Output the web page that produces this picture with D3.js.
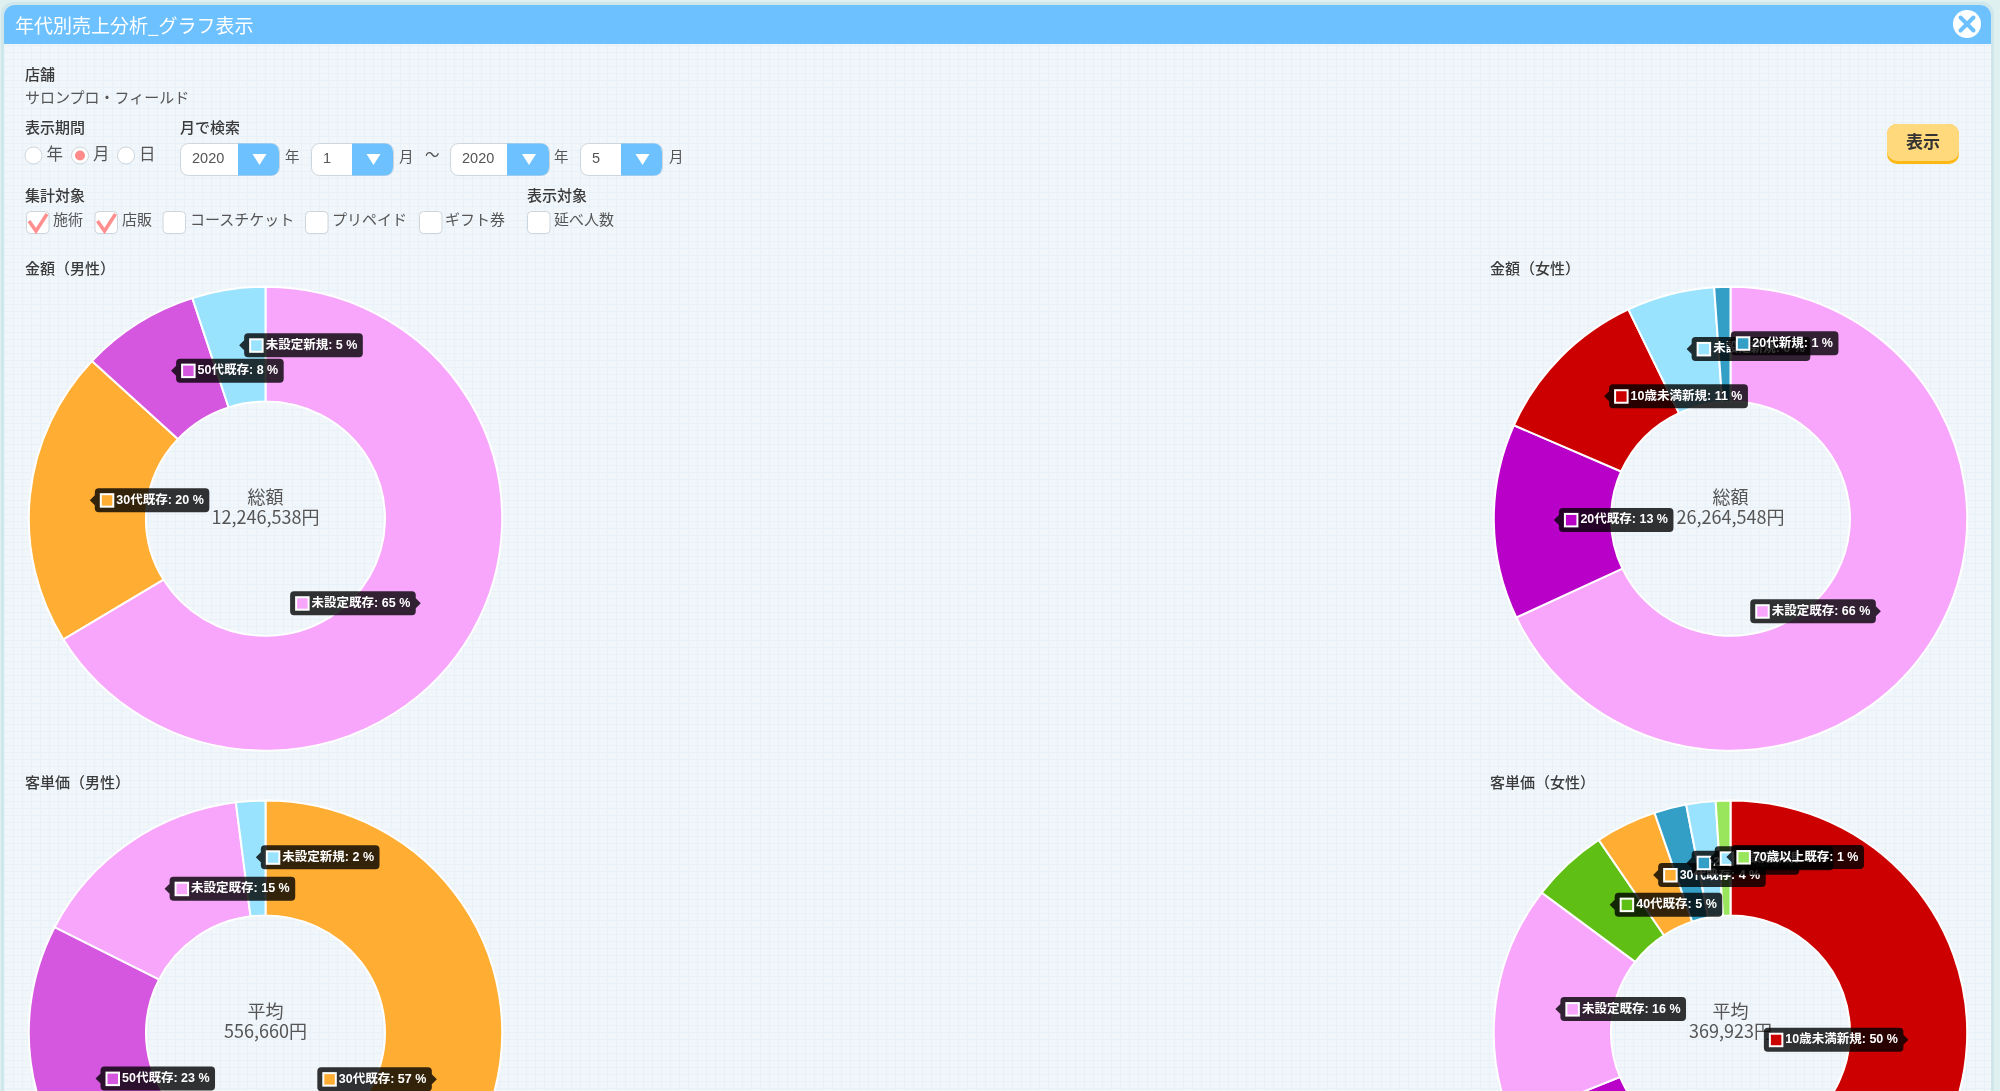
<!DOCTYPE html>
<html lang="ja">
<head>
<meta charset="utf-8">
<title>年代別売上分析_グラフ表示</title>
<script src="https://cdn.jsdelivr.net/npm/d3@7"></script>
<style>
  html, body { margin: 0; padding: 0; background: #dff0f1; overflow: hidden; }
  svg { display: block; filter: blur(0.4px); }
  text { font-family: "Liberation Sans", "Noto Sans CJK JP", sans-serif; }
</style>
</head>
<body>
<svg id="chart" width="2000" height="1091"></svg>
<script>
// chart data
const maleAmountNames = ["未設定既存", "30代既存", "50代既存", "未設定新規"];
const maleAmountValues = [66.3, 20.6, 8.1, 5];
const maleAmountPct = [65, 20, 8, 5];

const femaleAmountNames = ["未設定既存", "20代既存", "10歳未満新規", "未設定新規", "20代新規"];
const femaleAmountValues = [68, 13.6, 11.3, 6, 1.1];
const femaleAmountPct = [66, 13, 11, 6, 1];

const maleAvgNames = ["30代既存", "50代既存", "未設定既存", "未設定新規"];
const maleAvgValues = [58.8, 23.7, 15.5, 2];
const maleAvgPct = [57, 23, 15, 2];

const femaleAvgNames = ["10歳未満新規", "20代既存", "未設定既存", "40代既存", "30代既存", "20代新規", "未設定新規", "70歳以上既存"];
const femaleAvgValues = [51.5, 17.3, 16.5, 5.3, 4.2, 2.2, 2, 1];
const femaleAvgPct = [50, 17, 16, 5, 4, 2, 2, 1];

const colors = {
  "未設定既存": "#f8a5fc",
  "未設定新規": "#99e3ff",
  "10歳未満新規": "#cc0000",
  "20代既存": "#b800c8",
  "20代新規": "#339fc6",
  "30代既存": "#ffad33",
  "40代既存": "#60bf15",
  "50代既存": "#d557df",
  "70歳以上既存": "#99e65c"
};

const checkLabels = ["施術", "店販", "コースチケット", "プリペイド", "ギフト券", "延べ人数"];
const checked = [true, true, false, false, false, false];

const svg = d3.select("#chart");
const blue = "#6ec1ff";
const labelColor = "#3a3a3a";
const cjk = "\"Noto Sans CJK JP\", sans-serif";

function addText(g, x, y, str, size, opts) {
  opts = opts || {};
  return g.append("text")
    .attr("x", x)
    .attr("y", y)
    .attr("dominant-baseline", "central")
    .attr("text-anchor", opts.anchor || "start")
    .attr("font-size", size)
    .attr("font-weight", opts.weight || 400)
    .attr("fill", opts.fill || labelColor)
    .text(str);
}

function drawFrame() {
  // faint linen weave on the panel
  const pat = svg.append("defs").append("pattern").attr("id", "linen")
    .attr("width", 9).attr("height", 7).attr("patternUnits", "userSpaceOnUse");
  pat.append("rect").attr("width", 9).attr("height", 7).attr("fill", "#f1f6fb");
  pat.append("path").attr("d", "M0 3.5H9M4.5 0V7").attr("stroke", "#e9f1f8").attr("stroke-width", 1);

  svg.append("rect").attr("x", 1).attr("y", 2).attr("width", 1993).attr("height", 1100).attr("rx", 12).attr("fill", "#cfe6ea");
  svg.append("rect").attr("x", 4).attr("y", 5).attr("width", 1987).attr("height", 1100).attr("rx", 11).attr("fill", "url(#linen)");
  svg.append("path").attr("d", "M4 44V16a11 11 0 0 1 11-11H1980a11 11 0 0 1 11 11V44Z").attr("fill", blue);
  addText(svg, 15, 24.5, "年代別売上分析_グラフ表示", 19, {fill: "#fff"}).style("font-family", cjk);
  svg.append("circle").attr("cx", 1967).attr("cy", 24).attr("r", 14).attr("fill", "#fff");
  svg.append("path").attr("d", "M1960.5 17.5L1973.5 30.5M1973.5 17.5L1960.5 30.5")
    .attr("stroke", blue).attr("stroke-width", 4).attr("stroke-linecap", "round");
}

function drawSelect(x, w, arrowW, val) {
  svg.append("rect").attr("x", x + .5).attr("y", 143.5).attr("width", w).attr("height", 32).attr("rx", 8)
    .attr("fill", "#fff").attr("stroke", "#cdd6dc");
  svg.append("path")
    .attr("d", `M${x + w - arrowW} 143.5H${x + w - 8}a8 8 0 0 1 8 8V167.5a8 8 0 0 1 -8 8H${x + w - arrowW}Z`)
    .attr("fill", blue);
  const ax = x + w - arrowW / 2 + 1;
  svg.append("path").attr("d", `M${ax - 7} 154H${ax + 7}L${ax} 165Z`).attr("fill", "#fff");
  addText(svg, x + 12, 158, val, 14.5, {fill: "#555"});
}

function drawForm() {
  addText(svg, 25, 74, "店舗", 15, {weight: 500});
  addText(svg, 25, 97, "サロンプロ・フィールド", 15, {fill: "#555"});
  addText(svg, 25, 127, "表示期間", 15, {weight: 500});
  addText(svg, 180, 127, "月で検索", 15, {weight: 500});

  [[33.5, "年", false], [80, "月", true], [126, "日", false]].forEach(r => {
    svg.append("circle").attr("cx", r[0]).attr("cy", 155.5).attr("r", 8.5).attr("fill", "#fff").attr("stroke", "#cdd6dc");
    if (r[2]) svg.append("circle").attr("cx", r[0]).attr("cy", 155.5).attr("r", 5).attr("fill", "#ff8a8a");
    addText(svg, r[0] + 13, 154, r[1], 16.5, {fill: "#555"});
  });

  drawSelect(180, 99, 41, "2020");
  drawSelect(311, 82, 41, "1");
  drawSelect(450, 99, 42, "2020");
  drawSelect(580, 82, 41, "5");
  addText(svg, 285, 157, "年", 14.5, {fill: "#555"});
  addText(svg, 399, 157, "月", 14.5, {fill: "#555"});
  addText(svg, 425, 155, "〜", 14.5, {fill: "#555"});
  addText(svg, 554, 157, "年", 14.5, {fill: "#555"});
  addText(svg, 669, 157, "月", 14.5, {fill: "#555"});

  addText(svg, 25, 195, "集計対象", 15, {weight: 500});
  addText(svg, 527, 195, "表示対象", 15, {weight: 500});

  const boxX = [26, 94.5, 162.5, 305, 419, 527];
  const textX = [53, 122, 190, 332, 445, 554];
  checkLabels.forEach((label, i) => {
    svg.append("rect").attr("x", boxX[i] + .5).attr("y", 211.5).attr("width", 22.5).attr("height", 22).attr("rx", 4)
      .attr("fill", "#fff").attr("stroke", "#cdd6dc");
    if (checked[i]) {
      svg.append("path")
        .attr("d", `M${boxX[i] + 3} 221L${boxX[i] + 10} 231L${boxX[i] + 21} 214`)
        .attr("fill", "none").attr("stroke", "#ff8f8f").attr("stroke-width", 3.5);
    }
    addText(svg, textX[i], 219, label, 15, {fill: "#555"});
  });

  // 表示 button
  svg.append("rect").attr("x", 1887).attr("y", 124).attr("width", 72).attr("height", 40).attr("rx", 10).attr("fill", "#fdb813");
  svg.append("rect").attr("x", 1887).attr("y", 124).attr("width", 72).attr("height", 37).attr("rx", 10).attr("fill", "#ffd97c");
  addText(svg, 1923, 142, "表示", 17, {anchor: "middle", weight: 700, fill: "#333"});
}

const rX = 236.7, yScale = 0.98, innerR = 119.5;

function drawDonut(cx, cy, title, titleX, names, values, pct, centerTop, centerBottom) {
  addText(svg, titleX, cy - 250, title, 15, {weight: 500});

  const g = svg.append("g").attr("transform", `translate(${cx},${cy}) scale(1,${yScale})`);
  const pie = d3.pie().sort(null).value(d => d)(values);
  const arc = d3.arc().innerRadius(innerR).outerRadius(rX);

  g.selectAll("path")
    .data(pie)
    .enter()
    .append("path")
    .attr("d", arc)
    .attr("fill", (d, i) => colors[names[i]])
    .attr("stroke", "#fff")
    .attr("stroke-width", 2);

  addText(svg, cx, cy - 22.5, centerTop, 18, {anchor: "middle", fill: "#555"}).style("font-family", cjk);
  addText(svg, cx, cy - 3, centerBottom, 18, {anchor: "middle", fill: "#555"}).style("font-family", cjk);

  return pie.map((d, i) => {
    const c = arc.centroid(d);
    return {x: cx + c[0], y: cy + c[1] * yScale, str: `${names[i]}: ${pct[i]} %`, color: colors[names[i]], left: c[0] < 0};
  });
}

function drawTooltips(tips) {
  // same look as the chart.js tooltips, caret sits on the slice centre
  tips.forEach(t => {
    const g = svg.append("g").attr("transform", `translate(${t.left ? t.x + 1.5 : t.x},${t.y - 1})`);
    const bg = g.append("path").attr("fill", "rgba(0,0,0,0.8)");
    const label = addText(g, 0, -0.5, t.str, 12.5, {weight: 700, fill: "#fff"});
    const w = label.node().getComputedTextLength() + 27;
    const h = 24, caret = 5;
    const x0 = t.left ? caret : -caret - w;
    bg.attr("d", t.left
      ? `M0 0L${caret} ${-caret}V${-h / 2 + 4}q0 -4 4 -4H${x0 + w - 4}q4 0 4 4V${h / 2 - 4}q0 4 -4 4H${caret + 4}q-4 0 -4 -4V${caret}Z`
      : `M0 0L${-caret} ${-caret}V${-h / 2 + 4}q0 -4 -4 -4H${x0 + 4}q-4 0 -4 4V${h / 2 - 4}q0 4 4 4H${-caret - 4}q4 0 4 -4V${caret}Z`);
    label.attr("x", x0 + 21.5);
    g.append("rect").attr("x", x0 + 6).attr("y", -6).attr("width", 12.5).attr("height", 12.5)
      .attr("fill", t.color).attr("stroke", "#fff").attr("stroke-width", 2);
  });
}

drawFrame();
drawForm();

const tips = [
  drawDonut(265.5, 518.7, "金額（男性）", 25, maleAmountNames, maleAmountValues, maleAmountPct, "総額", "12,246,538円"),
  drawDonut(1730.5, 518.7, "金額（女性）", 1490, femaleAmountNames, femaleAmountValues, femaleAmountPct, "総額", "26,264,548円"),
  drawDonut(265.5, 1032.5, "客単価（男性）", 25, maleAvgNames, maleAvgValues, maleAvgPct, "平均", "556,660円"),
  drawDonut(1730.5, 1032.5, "客単価（女性）", 1490, femaleAvgNames, femaleAvgValues, femaleAvgPct, "平均", "369,923円")
];
tips.forEach(drawTooltips);
</script>
</body>
</html>
